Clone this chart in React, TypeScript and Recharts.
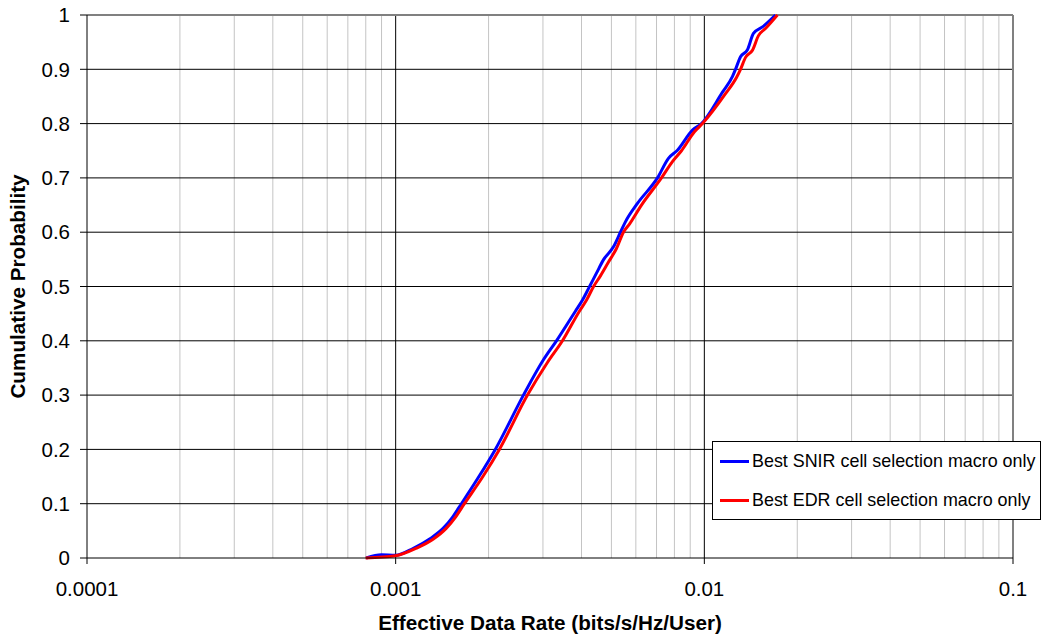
import { Label, Legend, Line, LineChart, ReferenceLine, XAxis, YAxis } from "recharts";

const FONT = "Arial, 'Liberation Sans', sans-serif";

// Best SNIR cell selection (blue)
const SNIR_RATE = [
  0.000803, 0.000899, 0.000998, 0.001141, 0.001296, 0.001427, 0.001527, 0.001633, 0.001861, 0.002103,
  0.002594, 0.003011, 0.003318, 0.003826, 0.00403, 0.004248, 0.004477, 0.00471, 0.005076, 0.005349,
  0.00555, 0.006072, 0.007049, 0.007651, 0.008181, 0.009153, 0.009788, 0.01145, 0.01234, 0.01262,
  0.0131, 0.013795, 0.014426, 0.015429, 0.016999,
];
const SNIR_PROB = [
  0, 0.006, 0.005, 0.018, 0.036, 0.055, 0.075, 0.1, 0.15, 0.2,
  0.3, 0.365, 0.4, 0.455, 0.475, 0.5, 0.525, 0.549, 0.573, 0.6,
  0.619, 0.653, 0.7, 0.736, 0.751, 0.788, 0.8, 0.858, 0.887, 0.9,
  0.923, 0.936, 0.966, 0.978, 1.0,
];

// Best EDR cell selection (red)
const EDR_RATE = [
  0.000799, 0.000998, 0.001167, 0.001325, 0.00146, 0.001561, 0.00167, 0.001917, 0.002168, 0.002673,
  0.003102, 0.00347, 0.003942, 0.004154, 0.004377, 0.004612, 0.004892, 0.005192, 0.00547, 0.005721,
  0.006256, 0.007263, 0.007881, 0.008432, 0.00929, 0.009862, 0.01171, 0.012712, 0.0131, 0.0136,
  0.014322, 0.014975, 0.015779, 0.017255,
];
const EDR_PROB = [
  0, 0.004, 0.018, 0.035, 0.055, 0.075, 0.1, 0.15, 0.2, 0.3,
  0.36, 0.4, 0.455, 0.475, 0.5, 0.52, 0.545, 0.57, 0.6, 0.615,
  0.65, 0.7, 0.73, 0.75, 0.785, 0.8, 0.855, 0.885, 0.9, 0.922,
  0.935, 0.962, 0.975, 1.0,
];

const SERIES_NAMES = ["Best SNIR cell selection macro only", "Best EDR cell selection macro only"];

const X_TICKS = [0.0001, 0.001, 0.01, 0.1];
const Y_TICKS = [0, 0.1, 0.2, 0.3, 0.4, 0.5, 0.6, 0.7, 0.8, 0.9, 1];
const MINOR_X = [
  0.0002, 0.0003, 0.0004, 0.0005, 0.0006, 0.0007, 0.0008, 0.0009,
  0.002, 0.003, 0.004, 0.005, 0.006, 0.007, 0.008, 0.009,
  0.02, 0.03, 0.04, 0.05, 0.06, 0.07, 0.08, 0.09,
];
const MAJOR_X = [0.001, 0.01];
const GRID_Y = [0.1, 0.2, 0.3, 0.4, 0.5, 0.6, 0.7, 0.8, 0.9];

const snirData = SNIR_RATE.map((x, i) => ({ x, y: SNIR_PROB[i] }));
const edrData = EDR_RATE.map((x, i) => ({ x, y: EDR_PROB[i] }));

function LegendBox({ payload }: any) {
  // keep the legend in series order
  const items = [...(payload ?? [])].sort(
    (a: any, b: any) => SERIES_NAMES.indexOf(a.value) - SERIES_NAMES.indexOf(b.value)
  );
  return (
    <div
      style={{
        position: "relative",
        width: "100%",
        height: "100%",
        boxSizing: "border-box",
        border: "1px solid #000",
        background: "#fff",
        fontFamily: FONT,
        fontSize: 17.9,
        color: "#000",
      }}
    >
      {items.map((p: any, i: number) => (
        <div
          key={i}
          style={{
            position: "absolute",
            left: 7,
            top: 7 + i * 39,
            height: 24,
            display: "flex",
            alignItems: "center",
            whiteSpace: "nowrap",
          }}
        >
          <span style={{ width: 29, height: 3, background: p.color, marginRight: 3 }} />
          <span>{p.value}</span>
        </div>
      ))}
    </div>
  );
}

function YTitle({ viewBox }: any) {
  const cy = viewBox.y + viewBox.height / 2;
  return (
    <text
      x={17}
      y={cy}
      transform={`rotate(-90, 17, ${cy})`}
      textAnchor="middle"
      dominantBaseline="central"
      fontFamily={FONT}
      fontSize={20.7}
      fontWeight="bold"
      fill="#000"
    >
      Cumulative Probability
    </text>
  );
}

export default function App() {
  return (
    <div
      style={{
        position: "absolute",
        left: 0,
        top: 0,
        width: 1041,
        height: 637,
        overflow: "hidden",
        background: "#fff",
        fontFamily: FONT,
      }}
    >
      <LineChart width={1041} height={637} margin={{ top: 15, right: 28, bottom: 0, left: 0 }}>
        <XAxis
          dataKey="x"
          type="number"
          scale="log"
          domain={[0.0001, 0.1]}
          ticks={X_TICKS}
          allowDataOverflow
          height={79}
          tickSize={6}
          tickMargin={17}
          stroke="#000"
          tick={{ fill: "#000", fontSize: 20.5, fontFamily: FONT }}
          tickFormatter={(v) => String(v)}
        >
          <Label
            value="Effective Data Rate (bits/s/Hz/User)"
            position="insideBottom"
            offset={7}
            fill="#000"
            fontSize={20.7}
            fontWeight="bold"
            fontFamily={FONT}
          />
        </XAxis>
        <YAxis
          dataKey="y"
          type="number"
          domain={[0, 1]}
          ticks={Y_TICKS}
          width={87}
          tickSize={7}
          tickMargin={10}
          stroke="#000"
          tick={{ fill: "#000", fontSize: 20.5, fontFamily: FONT }}
          tickFormatter={(v) => String(v)}
        >
          <Label content={YTitle} />
        </YAxis>

        {MINOR_X.map((v) => (
          <ReferenceLine key={`mx${v}`} x={v} stroke="#c4c4c4" strokeWidth={1} />
        ))}
        {GRID_Y.map((v) => (
          <ReferenceLine key={`gy${v}`} y={v} stroke="#000" strokeWidth={1} />
        ))}
        {MAJOR_X.map((v) => (
          <ReferenceLine key={`jx${v}`} x={v} stroke="#000" strokeWidth={1} />
        ))}
        <ReferenceLine y={1} stroke="#808080" strokeWidth={2} />
        <ReferenceLine x={0.1} stroke="#808080" strokeWidth={2} />

        <Line
          data={snirData}
          dataKey="y"
          name={SERIES_NAMES[0]}
          type="monotone"
          stroke="#0000ff"
          strokeWidth={3}
          dot={false}
          isAnimationActive={false}
        />
        <Line
          data={edrData}
          dataKey="y"
          name={SERIES_NAMES[1]}
          type="monotone"
          stroke="#ff0000"
          strokeWidth={3}
          dot={false}
          isAnimationActive={false}
        />

        <Legend
          layout="vertical"
          align="center"
          verticalAlign="middle"
          wrapperStyle={{ left: 712, top: 441, width: 329, height: 79 }}
          content={LegendBox}
        />
      </LineChart>
    </div>
  );
}
